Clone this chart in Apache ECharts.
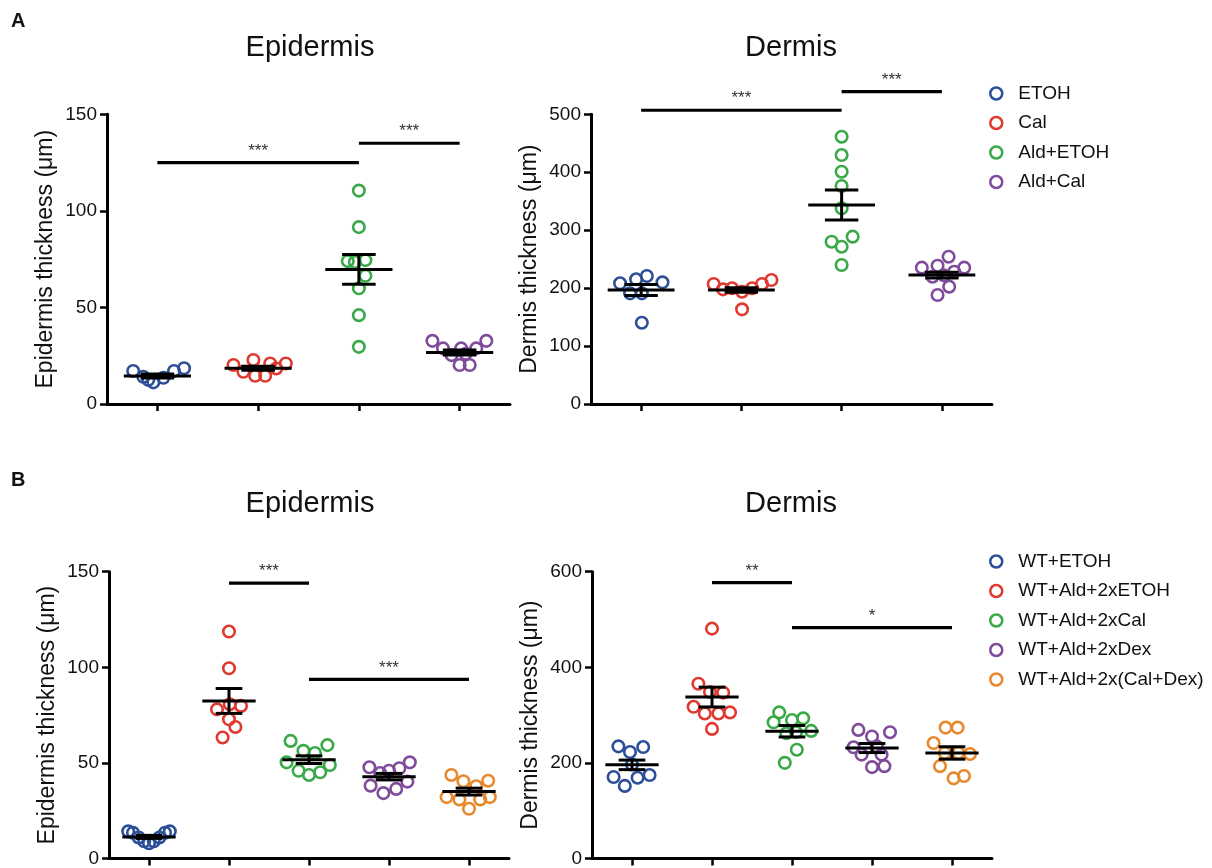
<!DOCTYPE html>
<html>
<head>
<meta charset="utf-8">
<script src="https://cdn.jsdelivr.net/npm/echarts@6/dist/echarts.min.js"></script>
<style>
html,body{margin:0;padding:0;background:#fff;}
#chart{width:1212px;height:868px;}
</style>
</head>
<body>
<div id="chart"></div>
<script>
// ---------------- DATA ----------------
const groupsA = ['ETOH', 'Cal', 'Ald+ETOH', 'Ald+Cal'];
const groupsB = ['WT+ETOH', 'WT+Ald+2xETOH', 'WT+Ald+2xCal', 'WT+Ald+2xDex', 'WT+Ald+2x(Cal+Dex)'];

// Panel A – Epidermis (µm)
const aEpiValues = [
  [17.1, 14.1, 11.2, 13.6, 17.1, 18.5, 12.5],
  [20.2, 16.7, 22.8, 14.6, 14.6, 21.0, 18.4, 21.0],
  [110.5, 91.6, 74.0, 73.5, 74.5, 66.4, 59.9, 46.0, 29.6],
  [32.7, 28.8, 25.3, 28.8, 20.2, 20.2, 28.8, 32.7, 26.0]
];
const aEpiJitter = [
  [-0.24, -0.14, -0.04, 0.06, 0.165, 0.265, -0.09],
  [-0.245, -0.146, -0.047, -0.03, 0.07, 0.12, 0.18, 0.275],
  [0, 0, -0.11, -0.04, 0.065, 0.065, 0, 0, 0],
  [-0.27, -0.165, -0.08, 0.015, 0, 0.1, 0.165, 0.265, 0.06]
];
const aEpiMean = [14.5, 18.5, 69.7, 26.7];
const aEpiSem = [1.0, 1.0, 7.75, 1.3];
const aEpiSig = [[0, 2, 125, '***'], [2, 3, 135, '***']];

// Panel A – Dermis (µm)
const aDermValues = [
  [208.3, 215.2, 220.9, 210.0, 191.0, 191.0, 140.3],
  [207.1, 197.9, 199.7, 193.8, 199.7, 207.1, 214.0, 163.4],
  [461.3, 429.7, 400.9, 376.3, 337.8, 280.1, 288.8, 271.5, 239.9],
  [235.3, 238.7, 254.2, 235.3, 228.3, 219.7, 202.5, 188.1, 222.0]
];
const aDermJitter = [
  [-0.21, -0.05, 0.057, 0.213, -0.11, 0.007, 0.007],
  [-0.276, -0.183, -0.093, 0.007, 0.107, 0.206, 0.3, 0.007],
  [0, 0, 0, 0, 0, -0.1, 0.11, 0, 0],
  [-0.2, -0.043, 0.067, 0.223, 0.123, -0.093, 0.073, -0.043, 0.02]
];
const aDermMean = [196.8, 196.8, 343.5, 222.6];
const aDermSem = [9.5, 4.0, 25.8, 5.0];
const aDermSig = [[0, 2, 507, '***'], [2, 3, 539, '***']];

// Panel B – Epidermis (µm)
const bEpiValues = [
  [14.2, 13.5, 11.0, 9.0, 8.0, 9.0, 11.0, 13.5, 14.2],
  [118.7, 99.5, 78.0, 80.7, 79.8, 72.8, 68.8, 63.3],
  [61.5, 59.3, 56.3, 55.2, 50.3, 45.9, 43.7, 45.1, 48.9],
  [47.7, 44.7, 45.9, 47.2, 50.3, 38.1, 34.2, 36.4, 40.2],
  [43.7, 40.4, 37.8, 40.7, 32.1, 30.9, 26.0, 30.9, 32.1]
];
const bEpiJitter = [
  [-0.26, -0.2, -0.13, -0.06, 0, 0.06, 0.13, 0.2, 0.26],
  [0, 0, -0.15, 0.01, 0.15, 0, 0.08, -0.08],
  [-0.23, 0.23, -0.07, 0.075, -0.28, -0.13, 0, 0.14, 0.26],
  [-0.245, -0.11, 0, 0.13, 0.26, -0.23, -0.07, 0.09, 0.23],
  [-0.22, -0.07, 0.09, 0.24, -0.28, -0.12, 0, 0.14, 0.26]
];
const bEpiMean = [11.3, 82.4, 51.7, 42.8, 35.0];
const bEpiSem = [0.8, 6.5, 2.0, 1.7, 1.8];
const bEpiSig = [[1, 2, 144, '***'], [2, 4, 93.7, '***']];

// Panel B – Dermis (µm)
const bDermValues = [
  [234.6, 222.8, 233.2, 170.5, 151.9, 169.0, 174.6, 196.6],
  [480.9, 365.6, 348.4, 347.0, 317.4, 303.5, 303.5, 305.6, 271.1],
  [305.6, 284.9, 289.7, 293.2, 266.9, 227.6, 200.1, 262.0, 264.0],
  [269.0, 255.3, 264.2, 232.6, 217.3, 234.6, 217.3, 191.2, 193.2],
  [273.9, 273.9, 241.5, 220.8, 220.8, 218.7, 193.2, 167.6, 172.6]
];
const bDermJitter = [
  [-0.17, -0.025, 0.14, -0.23, -0.09, 0.07, 0.22, 0],
  [0, -0.17, -0.025, 0.14, -0.23, -0.09, 0.08, 0.225, 0],
  [-0.16, -0.23, 0, 0.14, 0.24, 0.06, -0.09, -0.07, 0.05],
  [-0.17, 0, 0.225, -0.23, -0.13, 0.06, 0.12, 0, 0.155],
  [-0.08, 0.07, -0.23, -0.09, 0.08, 0.225, -0.15, 0.02, 0.15]
];
const bDermMean = [195.9, 337.7, 266.3, 231.1, 220.8];
const bDermSem = [10.0, 20.7, 12.0, 9.5, 13.0];
const bDermSig = [[1, 2, 577, '**'], [2, 4, 483, '*']];

// axis ranges / tick steps
const yMaxes = [150, 500, 150, 600];
const yIntervals = [50, 100, 50, 200];
const yNames = ['Epidermis thickness (μm)', 'Dermis thickness (μm)', 'Epidermis thickness (μm)', 'Dermis thickness (μm)'];
const titles = ['Epidermis', 'Dermis', 'Epidermis', 'Dermis'];

// ---------------- STYLE ----------------
const FONT = '"Liberation Sans", Arial, Helvetica, sans-serif';
const colorsA = ['#2c4f97', '#e03a30', '#3aa947', '#7f4b9a'];
const colorsB = ['#2c4f97', '#e03a30', '#3aa947', '#7f4b9a', '#e8892e'];
const TXT = '#111';

const panels = [
  {groups: groupsA, colors: colorsA, values: aEpiValues, jitter: aEpiJitter, mean: aEpiMean, sem: aEpiSem, sig: aEpiSig,
   grid: {left: 107, top: 114.3, width: 403, height: 289.7}, title: [310, 48]},
  {groups: groupsA, colors: colorsA, values: aDermValues, jitter: aDermJitter, mean: aDermMean, sem: aDermSem, sig: aDermSig,
   grid: {left: 591, top: 114.3, width: 401, height: 289.7}, title: [791, 48]},
  {groups: groupsB, colors: colorsB, values: bEpiValues, jitter: bEpiJitter, mean: bEpiMean, sem: bEpiSem, sig: bEpiSig,
   grid: {left: 109, top: 571.7, width: 400, height: 288.3}, title: [310, 504]},
  {groups: groupsB, colors: colorsB, values: bDermValues, jitter: bDermJitter, mean: bDermMean, sem: bDermSem, sig: bDermSig,
   grid: {left: 592, top: 571.7, width: 400, height: 290}, title: [791, 504]}
];

const grids = [], xAxes = [], yAxes = [], series = [], graphics = [];

panels.forEach((p, pi) => {
  const n = p.groups.length;
  grids.push(Object.assign({containLabel: false}, p.grid));
  // visible category axis (for the ticks and line)
  xAxes.push({
    type: 'category', gridIndex: pi, data: p.groups, boundaryGap: true,
    axisLine: {show: true, onZero: false, lineStyle: {color: '#000', width: 3}},
    axisTick: {show: true, alignWithLabel: true, interval: 0, length: 7, lineStyle: {color: '#000', width: 2.5}},
    axisLabel: {show: false, interval: 0}, splitLine: {show: false}
  });
  // hidden value axis for positioning the marks
  xAxes.push({type: 'value', gridIndex: pi, min: -0.5, max: n - 0.5, show: false});
  yAxes.push({
    type: 'value', gridIndex: pi, min: 0, max: yMaxes[pi], interval: yIntervals[pi],
    axisLine: {show: true, onZero: false, lineStyle: {color: '#000', width: 3}},
    axisTick: {show: true, length: 7, lineStyle: {color: '#000', width: 2.5}},
    axisLabel: {fontSize: 19, fontFamily: FONT, color: TXT, margin: 10},
    splitLine: {show: false},
    name: yNames[pi], nameLocation: 'middle', nameRotate: 90, nameGap: 50,
    nameTextStyle: {fontSize: 23, fontFamily: FONT, color: TXT}
  });
  const xIdx = pi * 2 + 1;
  p.groups.forEach((g, gi) => {
    series.push({
      name: g, type: 'scatter', xAxisIndex: xIdx, yAxisIndex: pi, z: 2, silent: true,
      symbol: 'circle', symbolSize: 11.5,
      itemStyle: {color: 'rgba(255,255,255,0)', borderColor: p.colors[gi], borderWidth: 2.6, opacity: 1},
      emphasis: {disabled: true},
      data: p.values[gi].map((v, k) => [gi + p.jitter[gi][k], v])
    });
  });
  // mean ± SEM
  series.push({
    type: 'custom', xAxisIndex: xIdx, yAxisIndex: pi, z: 5, silent: true,
    data: p.mean.map((m, i) => [i, m, p.sem[i]]),
    renderItem: function (params, api) {
      const i = api.value(0), m = api.value(1), s = api.value(2);
      const c = api.coord([i, m]);
      const band = api.size([1, 0])[0];
      const top = api.coord([i, m + s])[1], bot = api.coord([i, m - s])[1];
      const half = band / 3, cap = band / 6;
      const st = {stroke: '#000', lineWidth: 3};
      return {type: 'group', children: [
        {type: 'line', shape: {x1: c[0] - half, y1: c[1], x2: c[0] + half, y2: c[1]}, style: st},
        {type: 'line', shape: {x1: c[0], y1: top, x2: c[0], y2: bot}, style: st},
        {type: 'line', shape: {x1: c[0] - cap, y1: top, x2: c[0] + cap, y2: top}, style: st},
        {type: 'line', shape: {x1: c[0] - cap, y1: bot, x2: c[0] + cap, y2: bot}, style: st}
      ]};
    }
  });
  // significance bars
  const sig = p.sig;
  series.push({
    type: 'custom', xAxisIndex: xIdx, yAxisIndex: pi, z: 6, silent: true, clip: false,
    data: sig.map(s => [s[0], s[2], s[1]]),
    renderItem: function (params, api) {
      const s = sig[params.dataIndex];
      const a = api.coord([s[0], s[2]]), b = api.coord([s[1], s[2]]);
      return {type: 'group', children: [
        {type: 'line', shape: {x1: a[0], y1: a[1], x2: b[0], y2: b[1]}, style: {stroke: '#000', lineWidth: 3.2}},
        {type: 'text', style: {text: s[3], x: (a[0] + b[0]) / 2, y: a[1] - 3, align: 'center', verticalAlign: 'bottom',
          fontSize: 17, fontFamily: FONT, fill: '#333'}}
      ]};
    }
  });
  graphics.push({type: 'text', x: p.title[0], y: p.title[1],
    style: {text: titles[pi], align: 'center', verticalAlign: 'middle', fontSize: 29, fontFamily: FONT, fill: TXT}});
});

graphics.push({type: 'text', x: 11, y: 11, style: {text: 'A', fontSize: 20, fontWeight: 'bold', fontFamily: FONT, fill: TXT}});
graphics.push({type: 'text', x: 11, y: 470, style: {text: 'B', fontSize: 20, fontWeight: 'bold', fontFamily: FONT, fill: TXT}});

function legendFor(groups, colors, top) {
  return {
    orient: 'vertical', left: 984, top: top, itemWidth: 12, itemHeight: 12, itemGap: 10.5,
    selectedMode: false, icon: 'circle',
    textStyle: {fontSize: 19, fontFamily: FONT, color: TXT, padding: [0, 0, 0, 11]},
    data: groups.map((g, i) => ({name: g, icon: 'circle',
      itemStyle: {color: '#fff', borderColor: colors[i], borderWidth: 2.5}}))
  };
}

const option = {
  animation: false,
  backgroundColor: '#fff',
  grid: grids,
  xAxis: xAxes,
  yAxis: yAxes,
  legend: [legendFor(groupsA, colorsA, 79), legendFor(groupsB, colorsB, 547)],
  graphic: graphics,
  series: series
};

const chart = echarts.init(document.getElementById('chart'), null, {renderer: 'canvas'});
chart.setOption(option);
</script>
</body>
</html>
